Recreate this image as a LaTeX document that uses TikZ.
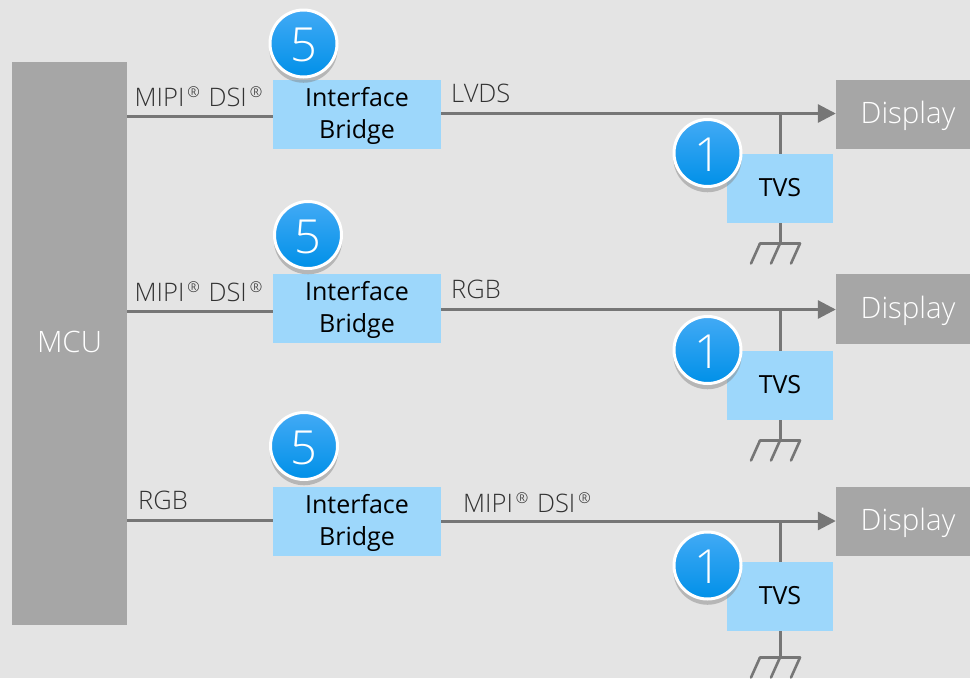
\documentclass[tikz,border=0pt]{standalone}
\usepackage{fontspec}
\setmainfont{Open Sans}
\newfontfamily\thinfont{Open Sans Light}
\definecolor{myPageGrey}{RGB}{228, 228, 228}
\definecolor{myBlockGrey}{RGB}{166, 166, 166}
\definecolor{myLightBlue}{RGB}{157, 215, 251}
\definecolor{myWireGrey}{RGB}{118, 118, 118}
\definecolor{myLabelGrey}{RGB}{50, 50, 50}
\definecolor{myBadgeTop}{RGB}{66, 170, 245}
\definecolor{myBadgeBottom}{RGB}{0, 144, 232}
\usetikzlibrary{arrows.meta,positioning,shadows}
\newcommand{\regmark}{\kern3pt\raisebox{9pt}{\fontsize{15}{15}\selectfont\textregistered}\kern2pt}
\tikzset{
    grayblock/.style={rectangle, fill=myBlockGrey, text=white, inner sep=0pt, text height=24pt, text depth=6pt, font=\thinfont\fontsize{29.5}{34}\selectfont, align=center},
    bridgebox/.style={rectangle, fill=myLightBlue, text=black, inner sep=0pt, minimum width=168pt, minimum height=69pt, font=\fontsize{25}{32}\selectfont, align=center},
    tvsbox/.style={rectangle, fill=myLightBlue, text=black, inner sep=0pt, minimum width=106pt, minimum height=69pt, text height=18pt, text depth=3pt, font=\fontsize{25}{30}\selectfont},
    badge/.style={circle, draw=white, line width=3pt, top color=myBadgeTop, bottom color=myBadgeBottom, text=white, minimum size=67pt, inner sep=0pt, text height=36pt, text depth=0pt, font=\thinfont\fontsize{47}{54}\selectfont, drop shadow={shadow xshift=0pt, shadow yshift=-5pt, shadow scale=1.02, opacity=0.45}},
    siglabel/.style={text=myLabelGrey, inner sep=0pt, anchor=base west, font=\thinfont\fontsize{25.5}{30}\selectfont},
    wire/.style={draw=myWireGrey, line width=3pt},
    gndwire/.style={draw=myWireGrey, line width=2.6pt, line cap=round},
    feed/.style={wire, -{Triangle[length=18pt, width=18pt]}}
}
\begin{document}
\begin{tikzpicture}[x=1pt, y=-1pt]
    \useasboundingbox (0,0) rectangle (970,678);
    \clip (0,0) rectangle (970,678);
    \fill[myPageGrey] (0,0) rectangle (970,678);

    \node[grayblock, minimum width=115pt, minimum height=563pt] (mcu) at (69.5,343.5) {MCU};

    % first channel
    \node[bridgebox] (bridgeA) at (357,114.5) {\rule{0pt}{22pt}Interface\\Bridge};
    \node[grayblock, minimum width=144pt, minimum height=69pt] (displayA) at (908,114.5) {Display};
    \node[tvsbox] (tvsA) at (780,188.5) {TVS};
    \coordinate (gndA) at (780,243.5);
    \coordinate (tapA) at (780,113.5);
    \node[siglabel] (inA) at (134.5,106) {MIPI\regmark{} DSI\regmark};
    \node[siglabel] (outA) at (451,102) {LVDS};

    % second channel
    \node[bridgebox] (bridgeB) at (357,308.5) {\rule{0pt}{22pt}Interface\\Bridge};
    \node[grayblock, minimum width=144pt, minimum height=70pt] (displayB) at (908,309) {Display};
    \node[tvsbox] (tvsB) at (780,385.5) {TVS};
    \coordinate (gndB) at (780,440.5);
    \coordinate (tapB) at (780,309.5);
    \node[siglabel] (inB) at (134.5,301) {MIPI\regmark{} DSI\regmark};
    \node[siglabel] (outB) at (451,298) {RGB};

    % third channel
    \node[bridgebox] (bridgeC) at (357,521.5) {\rule{0pt}{22pt}Interface\\Bridge};
    \node[grayblock, minimum width=144pt, minimum height=69pt] (displayC) at (908,521.5) {Display};
    \node[tvsbox] (tvsC) at (780,596.5) {TVS};
    \coordinate (gndC) at (780,657.5);
    \coordinate (tapC) at (780,521);
    \node[siglabel] (inC) at (138,509) {RGB};
    \node[siglabel] (outC) at (463,512) {MIPI\regmark{} DSI\regmark};

    \draw[wire] (mcu.east |- 0,116.5) -- (bridgeA.west |- 0,116.5);
    \draw[wire] (mcu.east |- 0,311) -- (bridgeB.west |- 0,311);
    \draw[wire] (mcu.east |- 0,520.5) -- (bridgeC.west |- 0,520.5);

    \draw[feed] (bridgeA.east |- tapA) -- (displayA.west |- tapA);
    \draw[feed] (bridgeB.east |- tapB) -- (displayB.west |- tapB);
    \draw[feed] (bridgeC.east |- tapC) -- (displayC.west |- tapC);

    \foreach \ch in {A,B,C}{
        \draw[wire] (tap\ch) -- (tvs\ch.north);
        \draw[wire] (tvs\ch.south) -- (gnd\ch);
        \draw[gndwire] ([xshift=-20pt]gnd\ch) -- ([xshift=20pt]gnd\ch);
        \draw[gndwire] ([xshift=-20pt]gnd\ch) -- ++(-9,20);
        \draw[gndwire] (gnd\ch) -- ++(-9,20);
        \draw[gndwire] ([xshift=20pt]gnd\ch) -- ++(-9,20);
    }

    \node[badge] (badgeA) at (303.5,43.5) {5};
    \node[badge] (badgeB) at (308,235) {5};
    \node[badge] (badgeC) at (304,446) {5};
    \node[badge] (badgeD) at (707.5,153) {1};
    \node[badge] (badgeE) at (707.5,350) {1};
    \node[badge] (badgeF) at (707.5,565.5) {1};
\end{tikzpicture}
\end{document}
